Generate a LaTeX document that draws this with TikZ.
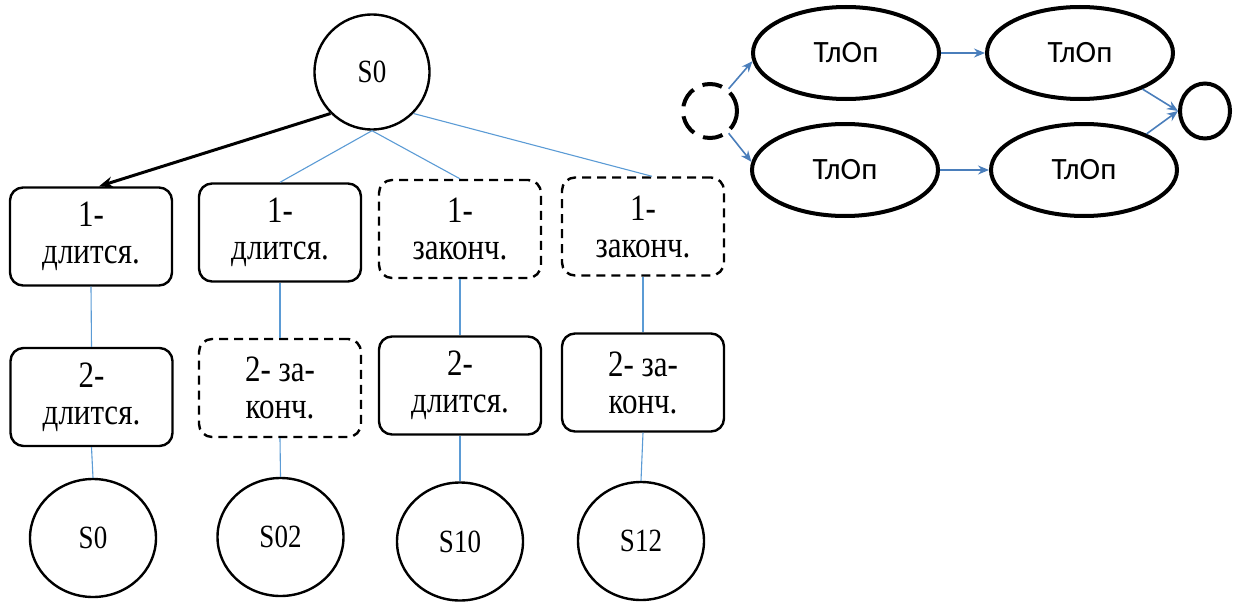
\documentclass[tikz,border=0pt]{standalone}
\usepackage{fontspec}
\usepackage{graphicx}
\setmainfont{Liberation Serif}
\newfontfamily\calib{Carlito}
\usetikzlibrary{shapes.geometric,arrows.meta}
\definecolor{treeblue}{HTML}{5B9BD5}
\definecolor{arrblue}{HTML}{4A7EBB}
\newcommand\tallt[1]{\scalebox{1}[1.2]{#1}}
\tikzset{
  boxsolid/.style={draw, line width=2.4pt, rounded corners=13pt, minimum width=162pt, minimum height=98pt, align=center, inner sep=0pt, font=\fontsize{31}{37}\selectfont},
  boxdash/.style={boxsolid, dash pattern=on 9pt off 6pt},
  state/.style={draw, ellipse, line width=2.4pt, minimum width=126pt, minimum height=118pt, inner sep=0pt, font=\fontsize{27}{32}\selectfont},
  oper/.style={draw, ellipse, line width=4pt, minimum width=186pt, minimum height=92pt, inner sep=0pt, font=\calib\fontsize{31}{36}\selectfont},
  treeline/.style={treeblue, line width=1.1pt},
  flow/.style={arrblue, line width=1.6pt, -{Stealth[length=11pt,width=9pt]}},
}
\begin{document}
\begin{tikzpicture}[x=1pt,y=-1pt]
\useasboundingbox (0,0) rectangle (1245,602);
% tree
\node[state, minimum width=115pt, minimum height=115pt] (s0) at (372,72) {\tallt{S0}};
\node[boxsolid] (a1) at (91,236.5) {\tallt{1-}\\\tallt{длится.}};
\node[boxsolid] (b1) at (280,232.5) {\tallt{1-}\\\tallt{длится.}};
\node[boxdash] (c1) at (460,229) {\tallt{1-}\\\tallt{законч.}};
\node[boxdash] (d1) at (643,226.5) {\tallt{1-}\\\tallt{законч.}};
\node[boxsolid] (a2) at (91.5,397) {\tallt{2-}\\\tallt{длится.}};
\node[boxdash] (b2) at (280,388) {\tallt{2- за-}\\\tallt{конч.}};
\node[boxsolid] (c2) at (460,385.5) {\tallt{2-}\\\tallt{длится.}};
\node[boxsolid] (d2) at (643,382.5) {\tallt{2- за-}\\\tallt{конч.}};
\node[state] (e1) at (93,538) {\tallt{S0}};
\node[state] (e2) at (280.5,537) {\tallt{S02}};
\node[state] (e3) at (460,541.5) {\tallt{S10}};
\node[state] (e4) at (641,541) {\tallt{S12}};
\draw[line width=3pt, -{Stealth[length=14pt,width=11pt]}] (s0.225) -- ([xshift=8pt]a1.north);
\draw[treeline] (s0.south) -- (b1.north);
\draw[treeline] (s0.south) -- (c1.north);
\draw[treeline] (s0.-45) -- ([xshift=9pt]d1.north);
\draw[treeline] (a1.south) -- (a2.north);
\draw[treeline] (b1.south) -- (b2.north);
\draw[treeline] (c1.south) -- (c2.north);
\draw[treeline] (d1.south) -- (d2.north);
\draw[treeline] (a2.south) -- (e1.north);
\draw[treeline] (b2.south) -- (e2.north);
\draw[treeline] (c2.south) -- (e3.north);
\draw[treeline] (d2.south) -- (e4.north);
% right network
\node[draw, circle, line width=4pt, dash pattern=on 20pt off 10pt, minimum size=54pt, inner sep=0pt] (st) at (710,111) {};
\node[oper] (o1) at (846,53) {ТлОп};
\node[oper] (o2) at (1080,53) {ТлОп};
\node[oper] (o3) at (845,170) {ТлОп};
\node[oper] (o4) at (1084,170) {ТлОп};
\node[draw, ellipse, line width=4pt, minimum width=50pt, minimum height=55pt, inner sep=0pt] (fin) at (1205,111) {};
\draw[flow] (st.50) -- (o1.185);
\draw[flow] (st.-50) -- (o3.175);
\draw[flow] (o1.east) -- (o2.west);
\draw[flow] (o3.east) -- (o4.west);
\draw[flow] (o2.-30) -- (fin.west);
\draw[flow] (o4.30) -- (fin.west);
\end{tikzpicture}
\end{document}
